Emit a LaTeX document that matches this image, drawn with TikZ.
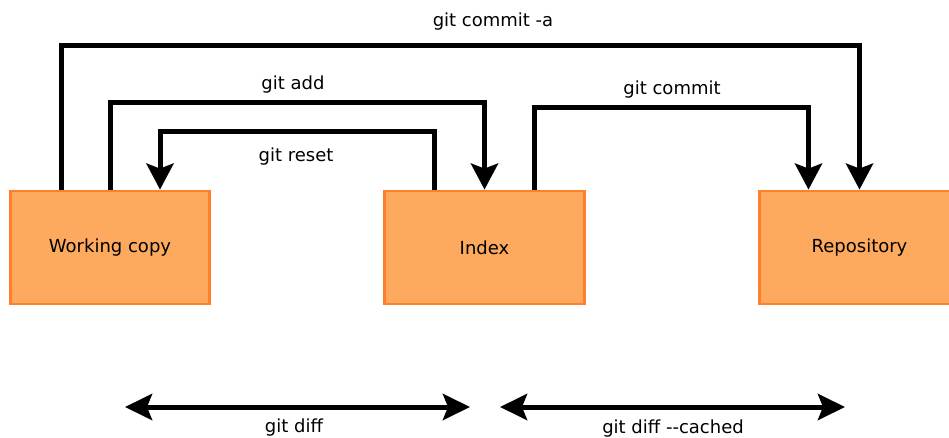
\documentclass[tikz,border=0pt]{standalone}
\usepackage{fontspec}
\setmainfont{DejaVu Sans}[Ligatures=TeXOff]
\usetikzlibrary{arrows.meta}
\definecolor{boxfill}{HTML}{FDAA5E}
\definecolor{boxline}{HTML}{FF7F2A}
\tikzset{
  area/.style={draw=boxline, fill=boxfill, line width=2.8pt, minimum width=199.5pt, minimum height=113pt, font=\fontsize{18}{21}\selectfont},
  conn/.style={line width=5pt, -{Stealth[length=26pt,width=27pt,inset=5pt]}},
  dconn/.style={line width=5pt, {Stealth[length=27pt,width=26pt,inset=5pt]}-{Stealth[length=27pt,width=26pt,inset=5pt]}},
  lbl/.style={font=\fontsize{18}{21}\selectfont, inner sep=0pt}
}
\begin{document}
\begin{tikzpicture}[x=1pt,y=-1pt]
\useasboundingbox (0,0) rectangle (949,438);
\begin{scope}
\clip (0,0) rectangle (949,438);
\node[area] (wc) at (110,247.5) {\raisebox{-2pt}{Working copy}};
\node[area] (idx) at (484.5,247.5) {\raisebox{-1pt}{Index}};
\node[area] (repo) at (859.5,247.5) {\raisebox{-2pt}{Repository}};
\end{scope}
\draw[conn] ([xshift=-49pt]wc.north) -- ++(0,-143.75) -| (repo.north);
\draw[conn] (wc.north) -- ++(0,-86.75) -| (idx.north);
\draw[conn] ([xshift=-50pt]idx.north) -- ++(0,-57.75) -| ([xshift=50pt]wc.north);
\draw[conn] ([xshift=50pt]idx.north) -- ++(0,-81.75) -| ([xshift=-51pt]repo.north);
\coordinate (d1) at (125,407);
\coordinate (d2) at (470,407);
\coordinate (d3) at (500,407);
\coordinate (d4) at (845,407);
\draw[dconn] (d1) -- (d2);
\draw[dconn] (d3) -- (d4);
\node[lbl] (lca) at (493,22) {git commit -a};
\node[lbl] (lad) at (293,85) {git add};
\node[lbl] (lre) at (296,157) {git reset};
\node[lbl] (lco) at (672,90) {git commit};
\node[lbl] (ldi) at (294,428) {git diff};
\node[lbl] (ldc) at (673,429) {git diff --cached};
\end{tikzpicture}
\end{document}
